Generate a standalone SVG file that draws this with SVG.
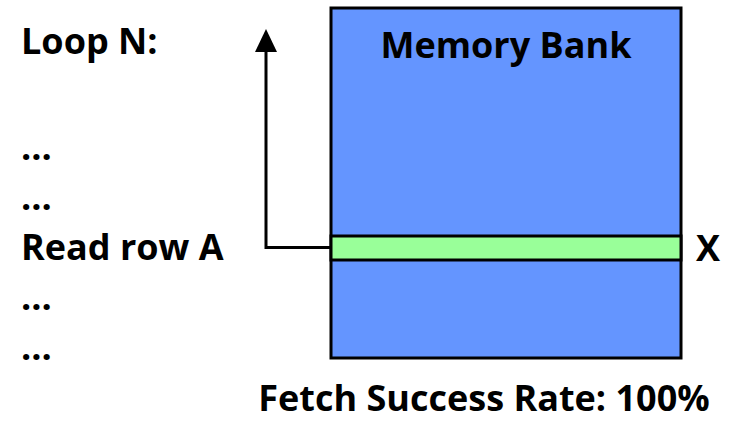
<svg xmlns="http://www.w3.org/2000/svg" width="731" height="422" viewBox="0 0 731 422">
<style>
text{font-family:"Open Sans","Liberation Sans",sans-serif;font-weight:bold;fill:#000}
.t{font-size:36px}
.c{stroke:#000;stroke-width:3;fill:none}
</style>
<rect width="731" height="422" fill="#fff"/>
<g id="code">
<text class="t" x="21" y="54">Loop N:</text>
<text class="t" x="21" y="160">…</text>
<text class="t" x="21" y="210">…</text>
<text class="t" x="21" y="260">Read row A</text>
<text class="t" x="21" y="310">…</text>
<text class="t" x="21" y="360">…</text>
</g>
<g id="bank">
<rect x="331" y="8" width="350" height="350" fill="#6495ff" stroke="#000" stroke-width="3"/>
<text class="t" x="506" y="58" text-anchor="middle">Memory Bank</text>
</g>
<g id="rowA">
<rect x="331" y="236" width="350" height="24" fill="#99ff99" stroke="#000" stroke-width="3"/>
</g>
<g id="x">
<text class="t" x="696" y="261">X</text>
</g>
<g id="connectors">
<path class="c" d="M331 247.5 H266 V50"/>
<polygon points="266,29 255,52 277,52" fill="#000"/>
</g>
<g id="rate">
<text class="t" x="484" y="411" text-anchor="middle">Fetch Success Rate: 100%</text>
</g>
</svg>
